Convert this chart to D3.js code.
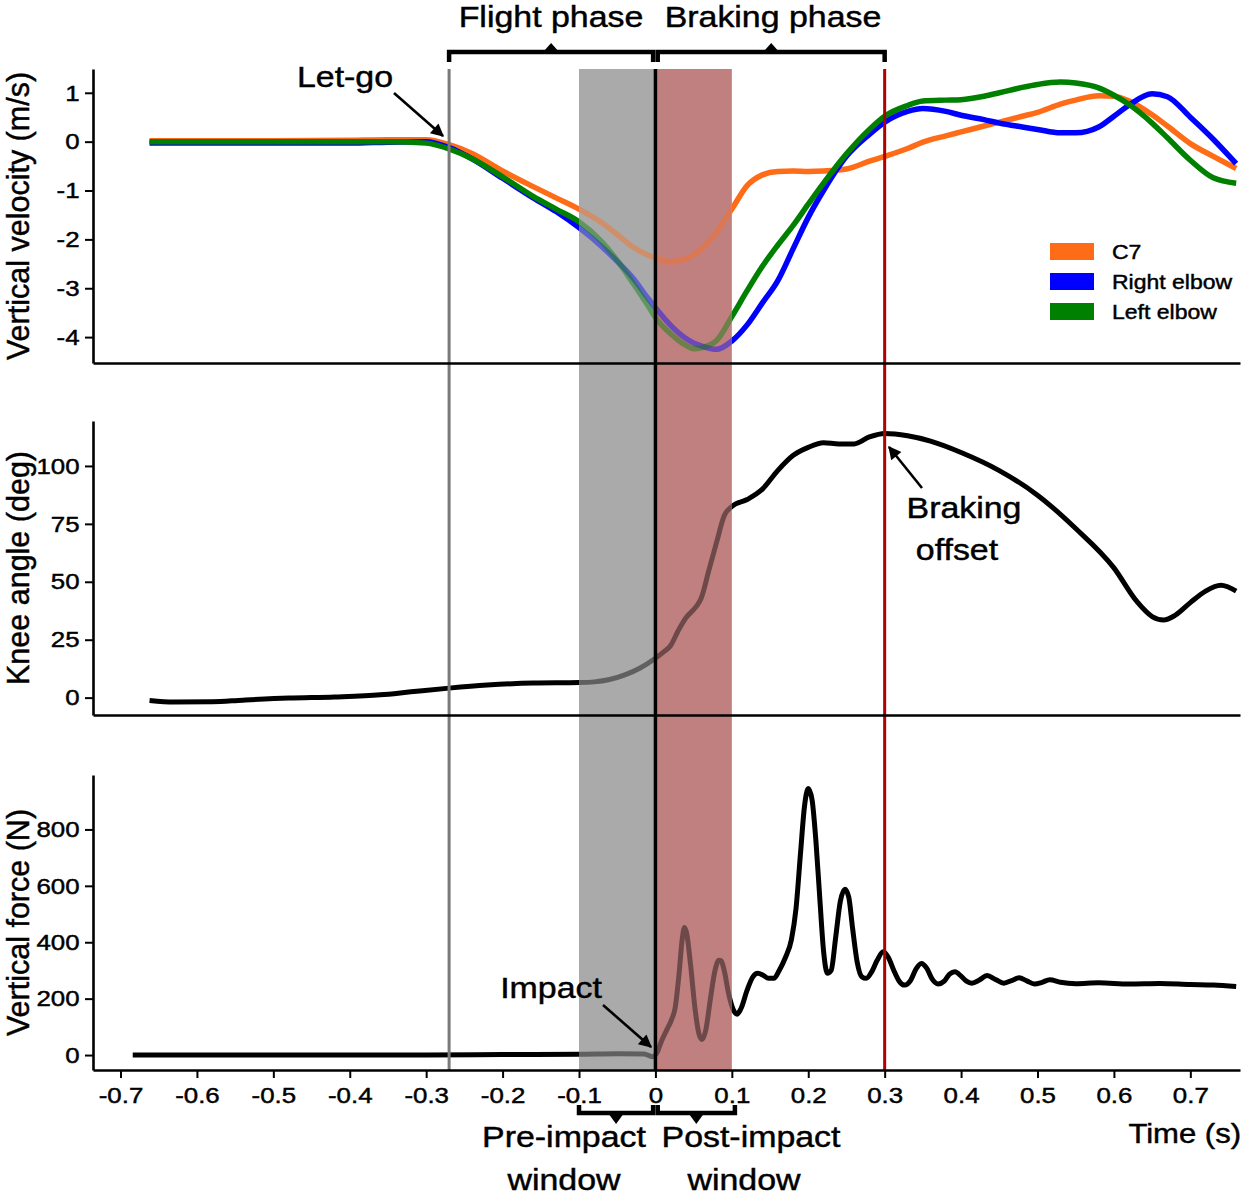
<!DOCTYPE html>
<html>
<head>
<meta charset="utf-8">
<script src="https://cdn.jsdelivr.net/npm/d3@7/dist/d3.min.js"></script>
<style>
  body { margin: 0; background: #fff; }
  svg text { font-family: "Liberation Sans", Arial, sans-serif; fill: #000; stroke: #000; stroke-width: 0.45px; }
</style>
</head>
<body>
<script>
"use strict";

var width = 1248, height = 1203;
var stretch = 1.15; // glyphs in the figure are a bit wider than Arial

// vertical velocity (m/s)
var velTime = [-0.662, -0.6, -0.5, -0.4, -0.35, -0.3, -0.27, -0.24, -0.2, -0.16, -0.13, -0.1, -0.07, -0.05, -0.03, -0.01,
  0, 0.02, 0.04, 0.05, 0.06, 0.08, 0.1, 0.12, 0.14, 0.16, 0.18, 0.2, 0.22, 0.25, 0.28, 0.3, 0.33, 0.35, 0.38, 0.4,
  0.43, 0.45, 0.48, 0.5, 0.53, 0.55, 0.58, 0.6, 0.62, 0.65, 0.67, 0.7, 0.73, 0.76];
var c7Vel = [0.02, 0.02, 0.02, 0.03, 0.04, 0.04, -0.06, -0.24, -0.6, -0.92, -1.15, -1.38, -1.66, -1.9, -2.15, -2.32,
  -2.38, -2.46, -2.4, -2.32, -2.2, -1.85, -1.38, -0.9, -0.68, -0.61, -0.6, -0.61, -0.6, -0.56, -0.4, -0.3, -0.14, -0.01, 0.12, 0.2,
  0.32, 0.4, 0.52, 0.6, 0.77, 0.85, 0.94, 0.93, 0.83, 0.55, 0.32, -0.04, -0.3, -0.55];
var rightElbowVel = [-0.03, -0.03, -0.03, -0.03, -0.01, 0, -0.12, -0.35, -0.75, -1.15, -1.43, -1.76, -2.15, -2.45, -2.78, -3.2,
  -3.4, -3.76, -4.03, -4.12, -4.18, -4.25, -4.08, -3.75, -3.3, -2.85, -2.2, -1.55, -1.0, -0.3, 0.15, 0.4, 0.62, 0.68, 0.62, 0.54,
  0.45, 0.38, 0.3, 0.25, 0.18, 0.18, 0.3, 0.52, 0.75, 0.98, 0.92, 0.5, 0.05, -0.45];
var leftElbowVel = [0, 0, 0, 0, 0, -0.03, -0.15, -0.35, -0.72, -1.12, -1.38, -1.64, -2.05, -2.43, -2.88, -3.35,
  -3.6, -3.93, -4.17, -4.24, -4.22, -4.07, -3.58, -3.05, -2.55, -2.12, -1.72, -1.28, -0.85, -0.25, 0.25, 0.52, 0.74, 0.83, 0.85, 0.86,
  0.93, 1.0, 1.11, 1.17, 1.22, 1.2, 1.1, 0.95, 0.76, 0.38, 0.08, -0.38, -0.74, -0.85];

// knee angle (deg)
var kneeTime = [-0.662, -0.63, -0.58, -0.54, -0.48, -0.42, -0.36, -0.32, -0.27, -0.22, -0.16, -0.1, -0.08, -0.06, -0.04, -0.02,
  0, 0.01, 0.02, 0.03, 0.04, 0.05, 0.055, 0.06, 0.07, 0.08, 0.09, 0.1, 0.12, 0.14, 0.16, 0.18, 0.2, 0.22, 0.24, 0.26, 0.28,
  0.3, 0.33, 0.36, 0.4, 0.45, 0.5, 0.55, 0.6, 0.63, 0.65, 0.665, 0.68, 0.7, 0.72, 0.74, 0.76];
var kneeAngle = [-1.2, -1.9, -1.8, -1.1, -0.2, 0.3, 1.2, 2.5, 4.1, 5.4, 6.3, 6.5, 6.8, 7.8, 9.8, 12.8,
  17, 19.5, 22.5, 29, 34.5, 38, 40, 43, 55, 67, 78.5, 82.5, 85.5, 90, 98, 104.5, 108, 110, 109.5, 109.5, 112.5,
  114, 113, 110.7, 105.8, 98, 87.4, 73, 56, 41.5, 35, 33.5, 35.5, 41, 46, 48.5, 46];

// vertical force (N)
var forceTime = [-0.684, -0.5, -0.3, -0.2, -0.1, -0.05, -0.015, -0.004, 0.002, 0.008, 0.015, 0.021, 0.026, 0.031, 0.035, 0.038,
  0.041, 0.046, 0.052, 0.057, 0.061, 0.066, 0.072, 0.078, 0.083, 0.086, 0.09, 0.096, 0.102, 0.107, 0.112, 0.12, 0.127, 0.134,
  0.141, 0.148, 0.155, 0.162, 0.17, 0.178, 0.184, 0.19, 0.195, 0.2, 0.205, 0.21, 0.215, 0.22, 0.225, 0.23, 0.236, 0.242, 0.248,
  0.253, 0.258, 0.264, 0.27, 0.276, 0.283, 0.29, 0.298, 0.305, 0.312, 0.319, 0.326, 0.334, 0.341, 0.348, 0.355, 0.362, 0.37,
  0.378, 0.385, 0.392, 0.4, 0.407, 0.414, 0.424, 0.434, 0.445, 0.456, 0.466, 0.476, 0.486, 0.496, 0.506, 0.516, 0.53, 0.55,
  0.58, 0.62, 0.66, 0.7, 0.73, 0.76];
var forceN = [0, 0, 0, 2, 3, 5, 4, -6, 8, 50, 90, 125, 170, 290, 410, 452,
  430, 320, 160, 75, 55, 90, 200, 300, 336, 335, 300, 215, 160, 145, 165, 230, 275, 290,
  283, 272, 272, 300, 345, 410, 520, 720, 880, 945, 905, 760, 560, 370, 290, 300, 420, 545, 588,
  560, 450, 330, 278, 272, 295, 335, 366, 345, 300, 262, 248, 265, 305, 325, 308, 270, 252,
  262, 287, 295, 280, 262, 255, 266, 282, 268, 255, 264, 274, 263, 252, 258, 267, 258, 253,
  256, 252, 254, 250, 248, 243];

var seriesNames = ["C7", "Right elbow", "Left elbow"];
var seriesColors = ["#ff6c17", "#0000ff", "#008000"];

var timeTicks = [-0.7, -0.6, -0.5, -0.4, -0.3, -0.2, -0.1, 0, 0.1, 0.2, 0.3, 0.4, 0.5, 0.6, 0.7];
var timeTickLabels = ["-0.7", "-0.6", "-0.5", "-0.4", "-0.3", "-0.2", "-0.1", "0", "0.1", "0.2", "0.3", "0.4", "0.5", "0.6", "0.7"];
var velTicks = [-4, -3, -2, -1, 0, 1];
var kneeTicks = [0, 25, 50, 75, 100];
var forceTicks = [0, 200, 400, 600, 800];

// events (s)
var letGoTime = -0.27, impactTime = 0, brakingOffsetTime = 0.3, windowLength = 0.1;

var svg = d3.select("body").append("svg")
  .attr("width", width)
  .attr("height", height);

var x = d3.scaleLinear().domain([-0.736, 0.765]).range([93, 1240]);

var panels = [
  { top: 69, bottom: 363, domain: [-4.53, 1.487], ticks: velTicks, label: "Vertical velocity (m/s)" },
  { top: 421, bottom: 715, domain: [-7.5, 119.4], ticks: kneeTicks, label: "Knee angle (deg)" },
  { top: 775, bottom: 1070, domain: [-53, 993], ticks: forceTicks, label: "Vertical force (N)" }
];
panels.forEach(function(p) {
  p.y = d3.scaleLinear().domain(p.domain).range([p.bottom, p.top]);
});

var plotTop = panels[0].top, plotBottom = panels[2].bottom;
var defs = svg.append("defs");

function setupDefs() {
  var lo = x(impactTime - windowLength), hi = x(impactTime + windowLength);
  defs.append("clipPath").attr("id", "clipOut")
    .selectAll("rect")
    .data([[0, lo], [hi, width]])
    .join("rect")
    .attr("x", function(d) { return d[0]; })
    .attr("y", 0)
    .attr("width", function(d) { return d[1] - d[0]; })
    .attr("height", height);
  defs.append("clipPath").attr("id", "clipIn")
    .append("rect")
    .attr("x", lo).attr("y", 0)
    .attr("width", hi - lo).attr("height", height);

  defs.append("marker")
    .attr("id", "arrow")
    .attr("viewBox", "0 0 10 10")
    .attr("refX", 9).attr("refY", 5)
    .attr("markerWidth", 17).attr("markerHeight", 13)
    .attr("markerUnits", "userSpaceOnUse")
    .attr("orient", "auto")
    .append("path")
    .attr("d", "M0,0L10,5L0,10Z")
    .attr("fill", "#000");
}

function drawShading() {
  svg.append("rect")
    .attr("x", x(impactTime - windowLength))
    .attr("y", plotTop)
    .attr("width", x(impactTime - 0.002) - x(impactTime - windowLength))
    .attr("height", plotBottom - plotTop)
    .attr("fill", "#aaaaaa");
  svg.append("rect")
    .attr("x", x(impactTime + 0.002))
    .attr("y", plotTop)
    .attr("width", x(impactTime + windowLength) - x(impactTime + 0.002))
    .attr("height", plotBottom - plotTop)
    .attr("fill", "#c08080");
}

function drawLine(times, values, y, color, w) {
  var pts = times.map(function(t, i) { return [x(t), y(values[i])]; });
  var line = d3.line().curve(d3.curveMonotoneX);
  ["clipOut", "clipIn"].forEach(function(id) {
    svg.append("path")
      .attr("d", line(pts))
      .attr("fill", "none")
      .attr("stroke", color)
      .attr("stroke-width", w)
      .attr("stroke-linejoin", "round")
      .attr("clip-path", "url(#" + id + ")")
      .attr("opacity", id === "clipIn" ? 0.43 : 1);
  });
}

function drawEventLines() {
  var events = [
    { t: letGoTime, color: "#7a7a7a", w: 3 },
    { t: impactTime, color: "#000", w: 3.5 },
    { t: brakingOffsetTime, color: "#b00000", w: 3 }
  ];
  events.forEach(function(e) {
    svg.append("line")
      .attr("x1", x(e.t)).attr("x2", x(e.t))
      .attr("y1", plotTop).attr("y2", plotBottom)
      .attr("stroke", e.color)
      .attr("stroke-width", e.w);
  });
}

function drawAxes() {
  panels.forEach(function(p, i) {
    var gy = svg.append("g")
      .attr("transform", "translate(" + x.range()[0] + ",0)")
      .call(d3.axisLeft(p.y).tickValues(p.ticks).tickFormat(String)
        .tickSize(8).tickSizeOuter(0).tickPadding(3.7));
    gy.selectAll("text")
      .style("font-size", "22.5px")
      .attr("transform", "scale(" + stretch + ",1)");

    var last = i === panels.length - 1;
    var gx = svg.append("g")
      .attr("transform", "translate(0," + p.bottom + ")")
      .call(d3.axisBottom(x).tickValues(last ? timeTicks : [])
        .tickFormat(function(d, k) { return timeTickLabels[k]; })
        .tickSize(8).tickSizeOuter(0).tickPadding(9));
    gx.selectAll("text")
      .style("font-size", "22.5px")
      .attr("transform", "scale(" + stretch + ",1)");

    [gy, gx].forEach(function(g) {
      g.select(".domain").attr("stroke-width", 2.6);
      g.selectAll(".tick line").attr("stroke-width", 2);
    });

    svg.append("text")
      .attr("transform", "translate(29," + (p.top + p.bottom) / 2 + ") rotate(-90)")
      .attr("text-anchor", "middle")
      .style("font-size", "30.5px")
      .text(p.label);
  });
}

function label(txt, px, py, size, anchor) {
  svg.append("text")
    .attr("transform", "translate(" + px + "," + py + ") scale(" + stretch + ",1)")
    .attr("text-anchor", anchor || "middle")
    .style("font-size", size + "px")
    .text(txt);
}

function arrow(x1, y1, x2, y2) {
  svg.append("line")
    .attr("x1", x1).attr("y1", y1)
    .attr("x2", x2).attr("y2", y2)
    .attr("stroke", "#000")
    .attr("stroke-width", 2.6)
    .attr("marker-end", "url(#arrow)");
}

function bracket(x0, x1, yLine, yEnd, yTip) {
  var cx = (x0 + x1) / 2;
  svg.append("path")
    .attr("d", "M" + x0 + "," + yEnd + "V" + yLine + "H" + x1 + "V" + yEnd)
    .attr("fill", "none")
    .attr("stroke", "#000")
    .attr("stroke-width", 4.5);
  svg.append("path")
    .attr("d", "M" + (cx - 8) + "," + yLine + "L" + cx + "," + yTip + "L" + (cx + 8) + "," + yLine + "Z")
    .attr("fill", "#000");
}

function drawAnnotations() {
  var gap = 0.003;
  bracket(x(letGoTime), x(impactTime - gap), 52, 62, 43);
  bracket(x(impactTime + gap), x(brakingOffsetTime), 52, 62, 43);
  bracket(x(impactTime - windowLength), x(impactTime - gap), 1113, 1105, 1124);
  bracket(x(impactTime + gap), x(impactTime + windowLength + 0.004), 1113, 1105, 1124);

  label("Flight phase", 551, 27, 29.5);
  label("Braking phase", 773, 27, 29.5);
  label("Let-go", 345, 87, 29.5);
  label("Braking", 964, 518, 29.5);
  label("offset", 957, 560, 29.5);
  label("Impact", 551, 998, 29.5);
  label("Pre-impact", 564, 1147, 29.5);
  label("window", 564, 1190, 29.5);
  label("Post-impact", 751, 1147, 29.5);
  label("window", 744, 1190, 29.5);
  label("Time (s)", 1241, 1143, 27, "end");

  arrow(394, 93, 443, 136);
  arrow(922, 488, 889, 447);
  arrow(603, 1005, 651, 1047);
}

function drawLegend() {
  seriesNames.forEach(function(name, i) {
    svg.append("rect")
      .attr("x", 1050).attr("y", 243 + i * 30)
      .attr("width", 44).attr("height", 17)
      .attr("fill", seriesColors[i]);
    label(name, 1112, 259 + i * 30, 20, "start");
  });
}

setupDefs();
drawShading();
[c7Vel, rightElbowVel, leftElbowVel].forEach(function(v, i) {
  drawLine(velTime, v, panels[0].y, seriesColors[i], 5.5);
});
drawLine(kneeTime, kneeAngle, panels[1].y, "#000", 5);
drawLine(forceTime, forceN, panels[2].y, "#000", 5);
drawEventLines();
drawAxes();
drawAnnotations();
drawLegend();
</script>
</body>
</html>
